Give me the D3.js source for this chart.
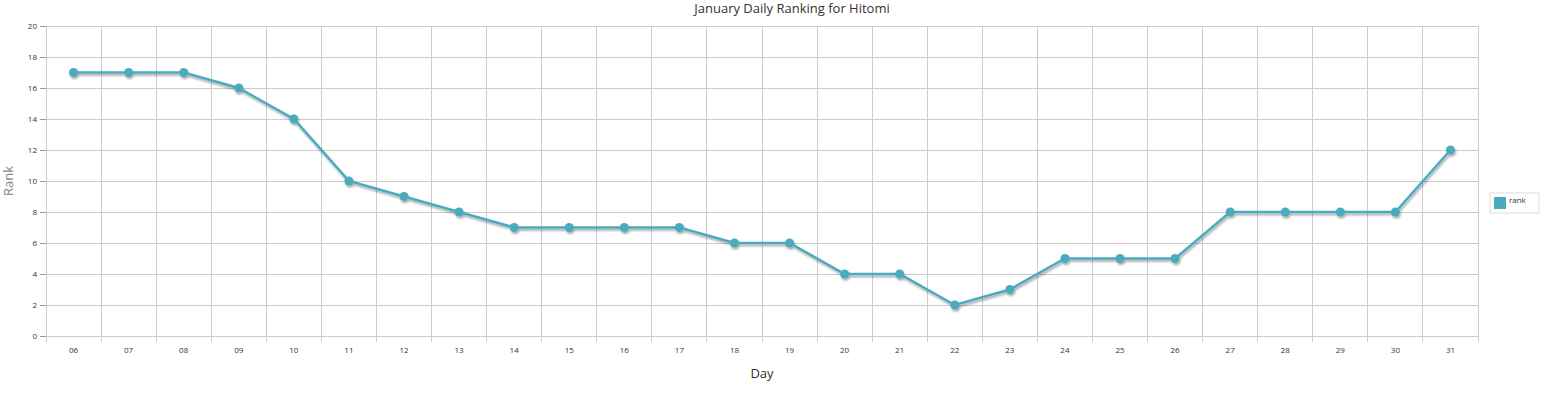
<!DOCTYPE html>
<html>
<head>
<meta charset="utf-8">
<script src="https://cdn.jsdelivr.net/npm/d3@7"></script>
<style>
  body { margin: 0; background: #fff; }
  text { font-family: "Open Sans", "DejaVu Sans", sans-serif; }
</style>
</head>
<body>
<svg id="chart" width="1564" height="394"></svg>
<script>
// Data
let days = ["06","07","08","09","10","11","12","13","14","15","16","17","18","19","20","21","22","23","24","25","26","27","28","29","30","31"];
let ranks = [17,17,17,16,14,10,9,8,7,7,7,7,6,6,4,4,2,3,5,5,5,8,8,8,8,12];
let yTicks = [0,2,4,6,8,10,12,14,16,18,20];

let svg = d3.select("#chart");
let margin = { left: 46, top: 26, right: 86, bottom: 58 };
let width = 1564 - margin.left - margin.right;
let height = 394 - margin.top - margin.bottom;
let lineColor = "#4aabbd";

let x = d3.scaleBand().domain(days).range([0, width]);
let y = d3.scaleLinear().domain([0, 20]).range([height, 0]);

let g = svg.append("g").attr("transform", `translate(${margin.left},${margin.top})`);

// shadow filter
let defs = svg.append("defs");
let f = defs.append("filter").attr("id", "shadow").attr("x", "-5%").attr("y", "-20%").attr("width", "110%").attr("height", "140%");
f.append("feOffset").attr("in", "SourceAlpha").attr("dx", 1).attr("dy", 2).attr("result", "off");
f.append("feGaussianBlur").attr("in", "off").attr("stdDeviation", 1).attr("result", "blur");
f.append("feComponentTransfer").attr("in", "blur").attr("result", "fade")
  .append("feFuncA").attr("type", "linear").attr("slope", 0.35);
let merge = f.append("feMerge");
merge.append("feMergeNode").attr("in", "fade");
merge.append("feMergeNode").attr("in", "SourceGraphic");

// Grid - horizontal
g.selectAll(".hgrid").data(yTicks).enter().append("line")
  .attr("class", "hgrid")
  .attr("x1", 0).attr("x2", width)
  .attr("y1", d => y(d)).attr("y2", d => y(d))
  .attr("stroke", "#cccccc").attr("stroke-width", 1)
  .attr("shape-rendering", "crispEdges");

// Grid - vertical at band boundaries
let bounds = days.map(d => x(d)).concat([width]);
g.selectAll(".vgrid").data(bounds).enter().append("line")
  .attr("class", "vgrid")
  .attr("x1", d => d).attr("x2", d => d)
  .attr("y1", 0).attr("y2", height + 6)
  .attr("stroke", "#cccccc").attr("stroke-width", 1)
  .attr("shape-rendering", "crispEdges");

// Y axis ticks
let yAxis = g.append("g").call(d3.axisLeft(y).tickValues(yTicks).tickSize(6).tickPadding(3));
yAxis.selectAll(".tick line").attr("stroke", "#999");
yAxis.selectAll("text").attr("fill", "#333").style("font-size", "8px");
yAxis.select(".domain").remove();

// X axis labels
let xAxis = g.append("g").attr("transform", `translate(0,${height})`)
  .call(d3.axisBottom(x).tickSize(0).tickPadding(11));
xAxis.select(".domain").attr("stroke", "#cccccc").attr("shape-rendering", "crispEdges");
xAxis.selectAll("text").attr("fill", "#333").style("font-size", "8px");

// Line
let line = d3.line()
  .x((d, i) => x(days[i]) + x.bandwidth() / 2)
  .y(d => y(d));

let series = g.append("g").attr("filter", "url(#shadow)");
series.append("path")
  .datum(ranks)
  .attr("d", line)
  .attr("fill", "none")
  .attr("stroke", lineColor)
  .attr("stroke-width", 2.5);

series.selectAll("circle").data(ranks).enter().append("circle")
  .attr("cx", (d, i) => x(days[i]) + x.bandwidth() / 2)
  .attr("cy", d => y(d))
  .attr("r", 4.5)
  .attr("fill", lineColor);

// Title
svg.append("text")
  .attr("x", 792)
  .attr("y", 13)
  .attr("text-anchor", "middle")
  .attr("fill", "#333")
  .style("font-size", "13px")
  .text("January Daily Ranking for Hitomi");

// Axis titles
svg.append("text")
  .attr("x", margin.left + width / 2)
  .attr("y", 378)
  .attr("text-anchor", "middle")
  .attr("fill", "#333")
  .style("font-size", "13px")
  .text("Day");

svg.append("text")
  .attr("transform", `translate(13,${margin.top + height / 2}) rotate(-90)`)
  .attr("text-anchor", "middle")
  .attr("fill", "#888")
  .style("font-size", "13px")
  .text("Rank");

// Legend
let legend = svg.append("g").attr("transform", "translate(1490,193)");
legend.append("rect")
  .attr("width", 49).attr("height", 20)
  .attr("fill", "#fff").attr("stroke", "#ddd");
legend.append("rect")
  .attr("x", 4).attr("y", 4).attr("width", 12).attr("height", 12)
  .attr("fill", lineColor);
legend.append("text")
  .attr("x", 19).attr("y", 10)
  .attr("fill", "#333")
  .style("font-size", "8px")
  .text("rank");
</script>
</body>
</html>
